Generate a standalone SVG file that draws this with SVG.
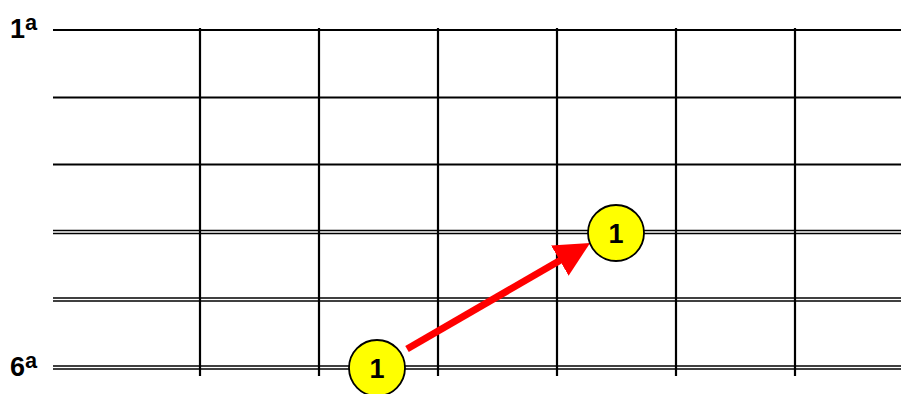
<svg xmlns="http://www.w3.org/2000/svg" width="901" height="394" viewBox="0 0 901 394">
<defs>
<style>
.s{stroke:#000;stroke-width:2.2;fill:none}
.d{stroke:#000;stroke-width:1.3;fill:none}
.lbl{font-family:"Liberation Sans",Arial,sans-serif;font-weight:bold;font-size:27px;fill:#000}
.sup{font-size:33px}
.n circle{fill:#ffff00;stroke:#000;stroke-width:1.8}
.n text{font-family:"Liberation Sans",Arial,sans-serif;font-weight:bold;font-size:27px;fill:#000;text-anchor:middle}
</style>
<marker id="ah" markerWidth="5" markerHeight="5" refX="3" refY="2.5" orient="auto" markerUnits="strokeWidth">
<path d="M0,0 L5,2.5 L0,5 z" fill="#ff0000"/>
</marker>
</defs>
<rect width="901" height="394" fill="#fff"/>
<g id="grid">
<line class="s" x1="53" y1="30" x2="901" y2="30"/>
<line class="s" x1="53" y1="97.5" x2="901" y2="97.5"/>
<line class="s" x1="53" y1="164.5" x2="901" y2="164.5"/>
<line class="d" x1="53" y1="230.5" x2="901" y2="230.5"/>
<line class="d" x1="53" y1="233.5" x2="901" y2="233.5"/>
<line class="d" x1="53" y1="298" x2="901" y2="298"/>
<line class="d" x1="53" y1="301" x2="901" y2="301"/>
<line class="d" x1="53" y1="366" x2="901" y2="366"/>
<line class="d" x1="53" y1="369" x2="901" y2="369"/>
<line class="s" x1="200" y1="28" x2="200" y2="376"/>
<line class="s" x1="319" y1="28" x2="319" y2="376"/>
<line class="s" x1="438" y1="28" x2="438" y2="376"/>
<line class="s" x1="557" y1="28" x2="557" y2="376"/>
<line class="s" x1="676" y1="28" x2="676" y2="376"/>
<line class="s" x1="795" y1="28" x2="795" y2="376"/>
</g>
<g id="labels">
<text class="lbl" x="10" y="38">1<tspan class="sup" dy="4">ª</tspan></text>
<text class="lbl" x="10" y="376">6<tspan class="sup" dy="4">ª</tspan></text>
</g>
<g id="connectors">
<line x1="407" y1="349" x2="578" y2="250" stroke="#ff0000" stroke-width="7" marker-end="url(#ah)"/>
</g>
<g id="n1" class="n">
<circle cx="377" cy="368" r="28"/>
<text x="377" y="378">1</text>
</g>
<g id="n2" class="n">
<circle cx="616" cy="233" r="28"/>
<text x="616" y="243">1</text>
</g>
</svg>
